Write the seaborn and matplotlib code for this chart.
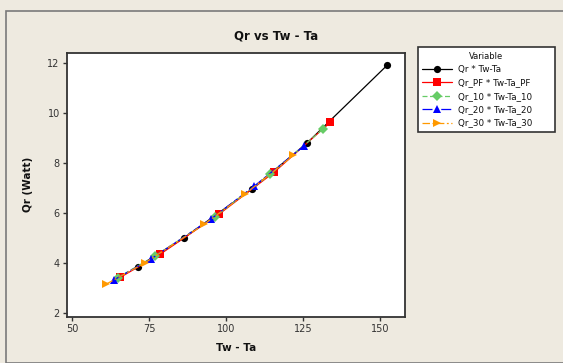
import pandas as pd
import matplotlib.pyplot as plt
import seaborn as sns
from matplotlib.patches import Rectangle

# Values
tw_ta = [71.5, 86.4, 108.3, 126.3, 152.4]
qr = [3.87, 5.02, 6.96, 8.81, 11.93]
tw_ta_pf = [65.7, 78.7, 97.8, 115.6, 133.9]
qr_pf = [3.44, 4.37, 5.97, 7.64, 9.64]
tw_ta_10 = [64.9, 76.9, 96.4, 114.3, 131.4]
qr_10 = [3.43, 4.29, 5.86, 7.55, 9.36]
tw_ta_20 = [63.7, 75.6, 95.0, 109.2, 125.3]
qr_20 = [3.34, 4.17, 5.76, 7.09, 8.69]
tw_ta_30 = [61.0, 73.7, 92.9, 106.2, 121.8]
qr_30 = [3.16, 4.02, 5.56, 6.77, 8.31]

labels = ['Qr * Tw-Ta', 'Qr_PF * Tw-Ta_PF', 'Qr_10 * Tw-Ta_10',
          'Qr_20 * Tw-Ta_20', 'Qr_30 * Tw-Ta_30']
xs = [tw_ta, tw_ta_pf, tw_ta_10, tw_ta_20, tw_ta_30]
ys = [qr, qr_pf, qr_10, qr_20, qr_30]

colors = ['black', '#FF0000', '#66CC66', '#0000FF', '#FF9900']
markers = ['o', 's', 'D', '^', '>']
sizes = [5.2, 5.5, 4.6, 5.5, 5.5]
dashes = [None, None, (4, 2), (8, 2, 3, 2), (6, 2, 1.5, 2)]

bg = '#EEEAE0'
sns.set_style('white')
plt.rcParams['font.family'] = ['DejaVu Sans']
plt.rcParams['text.color'] = '#111111'
plt.rcParams['axes.labelcolor'] = '#111111'

fig = plt.figure(figsize=(5.63, 3.63), dpi=100, facecolor=bg)
fig.patches.append(Rectangle((5.5 / 563, 0), 1.0, 1 - 10.5 / 363,
                             transform=fig.transFigure, fill=False,
                             edgecolor='#7A7A7A', linewidth=1.2))
ax = fig.add_axes([66.7 / 563, 1 - 316.7 / 363, 338 / 563, 264 / 363])

for x, y, lab, c, m, s, d in zip(xs, ys, labels, colors, markers, sizes, dashes):
    df = pd.DataFrame({'x': x, 'y': y})
    sns.lineplot(data=df, x='x', y='y', ax=ax, sort=False, color=c,
                 marker=m, markersize=s, markeredgewidth=0,
                 linewidth=0.9, label=lab)
    if d is not None:
        ax.lines[-1].set_dashes(d)

ax.set_xlim(48.28, 158.0)
ax.set_ylim(1.864, 12.42)
ax.set_xticks([50, 75, 100, 125, 150])
ax.set_yticks([2, 4, 6, 8, 10, 12])
ax.tick_params(axis='both', which='both', direction='out', length=3,
               width=1, labelsize=7, colors='#333333', pad=2)
ax.xaxis.set_ticks_position('bottom')
ax.yaxis.set_ticks_position('left')
for sp in ax.spines.values():
    sp.set_color('#333333')
    sp.set_linewidth(1.3)

ax.set_xlabel('Tw - Ta', fontsize=7.5, fontweight='bold', labelpad=7)
ax.set_ylabel('Qr (Watt)', fontsize=7.5, fontweight='bold', labelpad=10)
fig.text(276 / 563, 1 - 36 / 363, 'Qr vs Tw - Ta', ha='center', va='center',
         fontsize=8.5, fontweight='bold')

leg = ax.legend(title='Variable', loc='upper left', mode='expand',
                bbox_to_anchor=(418 / 563, 1 - 51 / 363, 137 / 563, 0.01),
                bbox_transform=fig.transFigure, fontsize=6.3,
                title_fontsize=6, frameon=True, fancybox=False,
                handlelength=3.4, borderpad=0.5, labelspacing=0.5,
                handletextpad=0.7, borderaxespad=0)
frame = leg.get_frame()
frame.set_edgecolor('#333333')
frame.set_facecolor('white')
frame.set_alpha(1)
frame.set_linewidth(1.2)

fig.savefig('out.png', dpi=100, facecolor=bg)
